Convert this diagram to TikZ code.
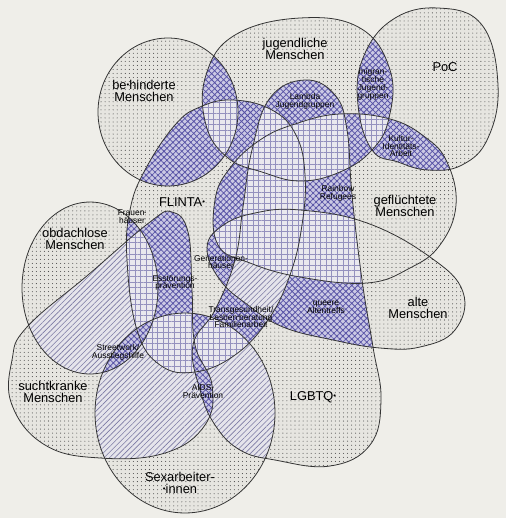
\documentclass[tikz,border=0pt]{standalone}
\usepackage{fontspec}
\setmainfont{Liberation Sans}
\usetikzlibrary{patterns.meta}

\definecolor{paper}{HTML}{EFEEE9}
\definecolor{dotbg}{HTML}{E6E5E0}
\definecolor{dotcol}{HTML}{4A4A4A}
\definecolor{lilabg}{HTML}{CBC9E4}
\definecolor{lilacol}{HTML}{5853A6}
\definecolor{gridbg}{HTML}{E9E8EE}
\definecolor{gridcol}{HTML}{9491BE}
\definecolor{diagbg}{HTML}{E5E4EB}
\definecolor{diagcol}{HTML}{7C7AA4}

\newcommand\gs{\raisebox{0.25ex}{\scalebox{0.6}{•}}}

% the groups (coordinates in pixels, y downwards)
\def\setB{(168,112) ellipse [x radius=1.4cm, y radius=1.48cm]}
\def\setJ{plot[smooth cycle, tension=0.7] coordinates {(300,18) (360,28) (390,70) (389,118) (372,150) (340,172) (300,181) (262,172) (228,158) (206,125) (206,75) (235,35)}}
\def\setP{plot[smooth cycle, tension=0.7] coordinates {(358,105) (363,58) (392,20) (438,8) (482,25) (498,85) (488,138) (462,165) (428,170) (398,162) (372,150)}}
\def\setG{plot[smooth cycle, tension=0.7] coordinates {(215,200) (230,168) (260,140) (295,124) (340,114) (390,119) (425,137) (447,162) (456,205) (440,245) (410,268) (367,283) (300,277) (250,263) (218,245)}}
\def\setA{plot[smooth cycle, tension=0.7] coordinates {(207,248) (222,226) (255,213) (300,210) (367,223) (430,257) (463,292) (455,330) (420,347) (380,348) (333,340) (283,327) (248,305) (220,280)}}
\def\setF{plot[smooth cycle, tension=0.7] coordinates {(233,100) (272,110) (296,135) (305,175) (302,225) (290,275) (268,320) (235,355) (195,372) (160,365) (137,330) (127,260) (130,210) (145,170) (175,125) (200,107)}}
\def\setL{plot[smooth cycle, tension=0.7] coordinates {(305,80) (335,95) (347,130) (352,195) (362,280) (373,347) (381,400) (370,445) (330,466) (275,460) (240,450) (215,425) (200,390) (193,345) (215,310) (235,260) (243,207) (252,150) (270,98)}}
\def\setO{(90,288) ellipse [x radius=1.36cm, y radius=1.72cm]}
\def\setS{plot[smooth cycle, tension=0.7] coordinates {(27,327) (88,275) (150,222) (172,212) (188,232) (192,290) (195,345) (212,385) (205,425) (165,453) (100,458) (45,445) (12,405) (12,360)}}
\def\setX{(185,413) ellipse [x radius=1.8cm, y radius=2cm]}

\newcommand\twoof[3]{\begin{scope}\clip #1;\fill[#3] #2;\end{scope}}
\newcommand\threeof[4]{\begin{scope}\clip #1;\clip #2;\fill[#4] #3;\end{scope}}

\begin{document}
\begin{tikzpicture}[x=0.02cm, y=-0.02cm,
    single/.style={fill=dotbg, postaction={pattern={Dots[distance=2.3pt, radius=0.3pt]}, pattern color=dotcol}},
    double/.style={fill=lilabg, postaction={pattern={Hatch[distance=2.4pt, angle=45, line width=0.45pt]}, pattern color=lilacol}},
    multi/.style={fill=gridbg, postaction={pattern={Hatch[distance=3.2pt, angle=0, line width=0.25pt]}, pattern color=gridcol}},
    diag/.style={fill=diagbg, postaction={pattern={Lines[distance=2.2pt, angle=45, line width=0.35pt]}, pattern color=diagcol}},
    outline/.style={draw=black!80, line width=0.45pt},
    biglabel/.style={align=center, inner sep=0pt, font=\fontsize{7.3}{6.9}\selectfont},
    offer/.style={align=center, inner sep=0pt, font=\fontsize{4.8}{4.5}\selectfont}
  ]
  \fill[paper] (0,0) rectangle (506,518);
  \useasboundingbox (0,0) rectangle (506,518);

  % one group
  \foreach \s in {\setB,\setJ,\setP,\setG,\setA,\setF,\setL,\setO,\setS,\setX}
    \fill[single] \s;

  % two groups
  \twoof{\setB}{\setJ}{double}
  \twoof{\setB}{\setF}{double}
  \twoof{\setJ}{\setP}{double}
  \twoof{\setJ}{\setF}{double}
  \twoof{\setJ}{\setL}{double}
  \twoof{\setJ}{\setG}{double}
  \twoof{\setP}{\setG}{double}
  \twoof{\setG}{\setF}{double}
  \twoof{\setG}{\setL}{double}
  \twoof{\setA}{\setF}{double}
  \twoof{\setA}{\setL}{double}
  \twoof{\setF}{\setL}{double}
  \twoof{\setF}{\setO}{double}
  \twoof{\setF}{\setS}{double}
  \twoof{\setF}{\setX}{double}
  \twoof{\setO}{\setX}{double}
  \twoof{\setS}{\setL}{double}
  \twoof{\setO}{\setS}{diag}
  \twoof{\setS}{\setX}{diag}
  \twoof{\setX}{\setL}{diag}
  \threeof{\setF}{\setA}{\setL}{diag}

  % three groups and more
  \threeof{\setB}{\setJ}{\setF}{multi}
  \threeof{\setJ}{\setF}{\setG}{multi}
  \threeof{\setJ}{\setF}{\setL}{multi}
  \threeof{\setJ}{\setG}{\setL}{multi}
  \threeof{\setJ}{\setP}{\setG}{multi}
  \threeof{\setF}{\setG}{\setL}{multi}
  \threeof{\setF}{\setG}{\setA}{multi}
  \threeof{\setG}{\setA}{\setL}{multi}
  \threeof{\setF}{\setO}{\setS}{multi}
  \threeof{\setF}{\setS}{\setL}{multi}
  \threeof{\setF}{\setS}{\setX}{multi}
  \threeof{\setF}{\setL}{\setX}{multi}
  \threeof{\setO}{\setS}{\setX}{double}
  \threeof{\setS}{\setX}{\setL}{double}

  \foreach \s in {\setB,\setJ,\setP,\setG,\setA,\setF,\setL,\setO,\setS,\setX}
    \draw[outline] \s;

  % group names
  \node[biglabel] (behinderte) at (144,91) {be\gs hinderte\\Menschen};
  \node[biglabel] (jugendliche) at (295,49) {jugendliche\\Menschen};
  \node[biglabel] (poc) at (445,67) {PoC};
  \node[biglabel] (flinta) at (182,202) {FLINTA\gs};
  \node[biglabel] (gefluechtete) at (405,206) {geflüchtete\\Menschen};
  \node[biglabel] (obdachlose) at (75,239) {obdachlose\\Menschen};
  \node[biglabel] (alte) at (418,308) {alte\\Menschen};
  \node[biglabel] (suchtkranke) at (53,392) {suchtkranke\\Menschen};
  \node[biglabel] (lgbtq) at (313,397) {LGBTQ\gs};
  \node[biglabel] (sexarbeit) at (180,483) {Sexarbeiter-\\\gs innen};

  % offers in the overlaps
  \node[offer] (migrantisch) at (373,84) {migran-\\tische\\Jugend-\\gruppen};
  \node[offer] (lambda) at (305,101) {Lambda\\Jugendgruppen};
  \node[offer] (kultur) at (401,146) {Kultur-\\Identitäts-\\Arbeit};
  \node[offer] (rainbow) at (338,193) {Rainbow\\Refugees};
  \node[offer] (frauenhaus) at (132,217) {Frauen\gs\\häuser};
  \node[offer] (generationen) at (221,262) {Generationen-\\häuser};
  \node[offer] (essstoerung) at (175,283) {Esstörungs-\\prävention};
  \node[offer] (altentreff) at (326,307) {queere\\Altentreffs};
  \node[offer] (transgesund) at (241,317) {Transgesundheit/\\Lesben\gs beratung\\Familienarbeit};
  \node[offer] (streetwork) at (118,352) {Streetwork/\\Ausstiegshilfe};
  \node[offer] (aids) at (203,392) {AIDS-\\Prävention};
\end{tikzpicture}
\end{document}
